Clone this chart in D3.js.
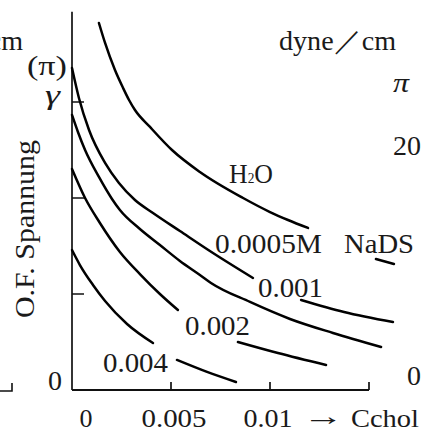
<!DOCTYPE html>
<html>
<head>
<meta charset="utf-8">
<script src="https://cdn.jsdelivr.net/npm/d3@7"></script>
<style>
body{margin:0;background:#fff;}
svg{display:block;}
text{font-family:"Liberation Serif","DejaVu Serif",serif;fill:#1a1a1a;}
</style>
</head>
<body>
<script>
// ---- values (Cchol in mol/l, tension in dyne/cm) ----
var xTickValues = [0.005, 0.01, 0.015];
var xTickLabels = ["0", "0.005", "0.01"];
var xLabelValues = [0, 0.005, 0.01];
var yTickValues = [10, 20, 30];
var piTickValues = [0, 20];
var piTickLabels = ["0", "20"];

// each curve is split where a label interrupts it
var h2o = [[0.00136,38.23],[0.00167,36.15],[0.00217,33.33],[0.00258,31.46],[0.00288,30.21],
  [0.00318,29.17],[0.00394,27.40],[0.00505,25.00],[0.00646,22.71],[0.00864,20.00],
  [0.01000,18.54],[0.01091,17.71],[0.01192,16.88]];
var h2oTail = [[0.01535,13.65],[0.01626,13.13]];

var nads0005 = [[0,33.54],[0.00035,30.42],[0.00086,27.08],[0.00167,23.65],[0.00237,21.56],
  [0.00318,19.79],[0.00409,18.44],[0.00545,16.56],[0.00712,14.27],[0.00914,11.67]];
var nads0005Tail = [[0.01157,9.38],[0.01374,8.13],[0.01621,7.08]];

var nads001 = [[0,28.65],[0.00030,26.88],[0.00066,25.00],[0.00136,22.19],[0.00202,19.90],
  [0.00242,18.75],[0.00343,16.77],[0.00444,15.10],[0.00545,13.44],[0.00646,11.98],
  [0.00702,11.15],[0.00899,9.17],[0.01101,7.40],[0.01318,5.94],[0.01561,4.48]];

var nads002 = [[0,23.02],[0.00066,20.00],[0.00141,17.40],[0.00242,14.38],[0.00343,12.08],
  [0.00444,10.00],[0.00535,8.33]];
var nads002Tail = [[0.00838,5.00],[0.01040,3.85],[0.01283,2.60]];

var nads004 = [[0,14.58],[0.00040,13.02],[0.00106,10.94],[0.00167,9.27],[0.00278,6.88],[0.00409,4.90]];
var nads004Tail = [[0.00530,3.13],[0.00682,1.88],[0.00828,0.83]];

var segments = [h2o, h2oTail, nads0005, nads0005Tail, nads001, nads002, nads002Tail, nads004, nads004Tail];

// ---- drawing ----
var W = 422, H = 433, fs = 27;
var svg = d3.select("body").append("svg").attr("width", W).attr("height", H);

var x = d3.scaleLinear().domain([0, 0.015]).range([72, 369]);
var y = d3.scaleLinear().domain([0, 40]).range([390, 6]);
var pi = d3.scaleLinear().domain([0, 20]).range([385, 155]);

// axes
svg.append("line").attr("x1", x(0)).attr("x2", x(0))
   .attr("y1", y(0)).attr("y2", y(39.4))
   .style("stroke", "#111").style("stroke-width", 1.7);
svg.append("line").attr("x1", x(0)).attr("x2", x(0.015))
   .attr("y1", y(0)).attr("y2", y(0))
   .style("stroke", "#111").style("stroke-width", 2);

svg.selectAll(".ytick").data(yTickValues).enter().append("line")
   .attr("class", "ytick")
   .attr("x1", x(0)).attr("x2", x(0) + 12)
   .attr("y1", function(d){ return y(d); }).attr("y2", function(d){ return y(d); })
   .style("stroke", "#111").style("stroke-width", 1.5);
svg.selectAll(".xtick").data(xTickValues).enter().append("line")
   .attr("class", "xtick")
   .attr("x1", function(d){ return x(d); }).attr("x2", function(d){ return x(d); })
   .attr("y1", y(0)).attr("y2", y(0) - 8)
   .style("stroke", "#111").style("stroke-width", 1.7);

// curves
var line = d3.line()
   .x(function(d){ return x(d[0]); })
   .y(function(d){ return y(d[1]); })
   .curve(d3.curveMonotoneX);
svg.selectAll(".curve").data(segments).enter().append("path")
   .attr("class", "curve")
   .attr("d", line)
   .style("fill", "none").style("stroke", "#000").style("stroke-width", 2.5)
   .style("stroke-linecap", "round");

function label(str, px, py, len, anchor){
	var t = svg.append("text").attr("x", px).attr("y", py)
	   .style("font-size", fs + "px").text(str);
	if(len) t.attr("textLength", len).attr("lengthAdjust", "spacingAndGlyphs");
	if(anchor) t.attr("text-anchor", anchor);
	return t;
}

// x labels (kept a little smaller so they stay inside the frame)
var xw = [13, 65, 49];
svg.selectAll(".xlab").data(xTickLabels).enter().append("text")
   .attr("class", "xlab")
   .attr("x", function(d, i){ return x(xLabelValues[i]) + [14, 3, -2][i]; })
   .attr("y", 427)
   .attr("text-anchor", "middle")
   .attr("textLength", function(d, i){ return xw[i]; })
   .attr("lengthAdjust", "spacingAndGlyphs")
   .style("font-size", "26px")
   .text(function(d){ return d; });
label("\u2192", 303, 425, 41).style("font-size", "26px");
label("Cchol", 351, 427, 68).style("font-size", "26px");

// left axis texts
label("0", 48, 390, 14);
label("\u03b3", 45, 104, 15).style("font-style", "italic");
label("(\u03c0)", 27, 75, 40);
label("dyne\uff0fcm", 23 - 117, 50, 117);
svg.append("text")
   .attr("transform", "translate(34,318) rotate(-90)")
   .attr("textLength", 178).attr("lengthAdjust", "spacingAndGlyphs")
   .style("font-size", fs + "px")
   .text("O.F.  Spannung");
svg.append("path").attr("d", "M0,391H12V383")
   .style("fill", "none").style("stroke", "#111").style("stroke-width", 1.6);

// right axis texts
label("dyne\uff0fcm", 279, 50, 117);
label("\u03c0", 393, 92, 16).style("font-style", "italic");
svg.selectAll(".pilab").data(piTickLabels).enter().append("text")
   .attr("class", "pilab")
   .attr("x", 421)
   .attr("y", function(d, i){ return pi(piTickValues[i]); })
   .attr("text-anchor", "end")
   .attr("textLength", function(d){ return d.length * 14; })
   .attr("lengthAdjust", "spacingAndGlyphs")
   .style("font-size", fs + "px")
   .text(function(d){ return d; });

// curve labels
var h = svg.append("text").attr("x", 229).attr("y", 183)
   .attr("textLength", 44).attr("lengthAdjust", "spacingAndGlyphs")
   .style("font-size", fs + "px");
h.append("tspan").text("H");
h.append("tspan").style("font-size", "14px").text("2");
h.append("tspan").text("O");
label("0.0005M", 215, 253, 107);
label("NaDS", 344, 253, 70);
label("0.001", 258, 297, 65);
label("0.002", 185, 335, 65);
label("0.004", 103, 372, 65);
</script>
</body>
</html>
